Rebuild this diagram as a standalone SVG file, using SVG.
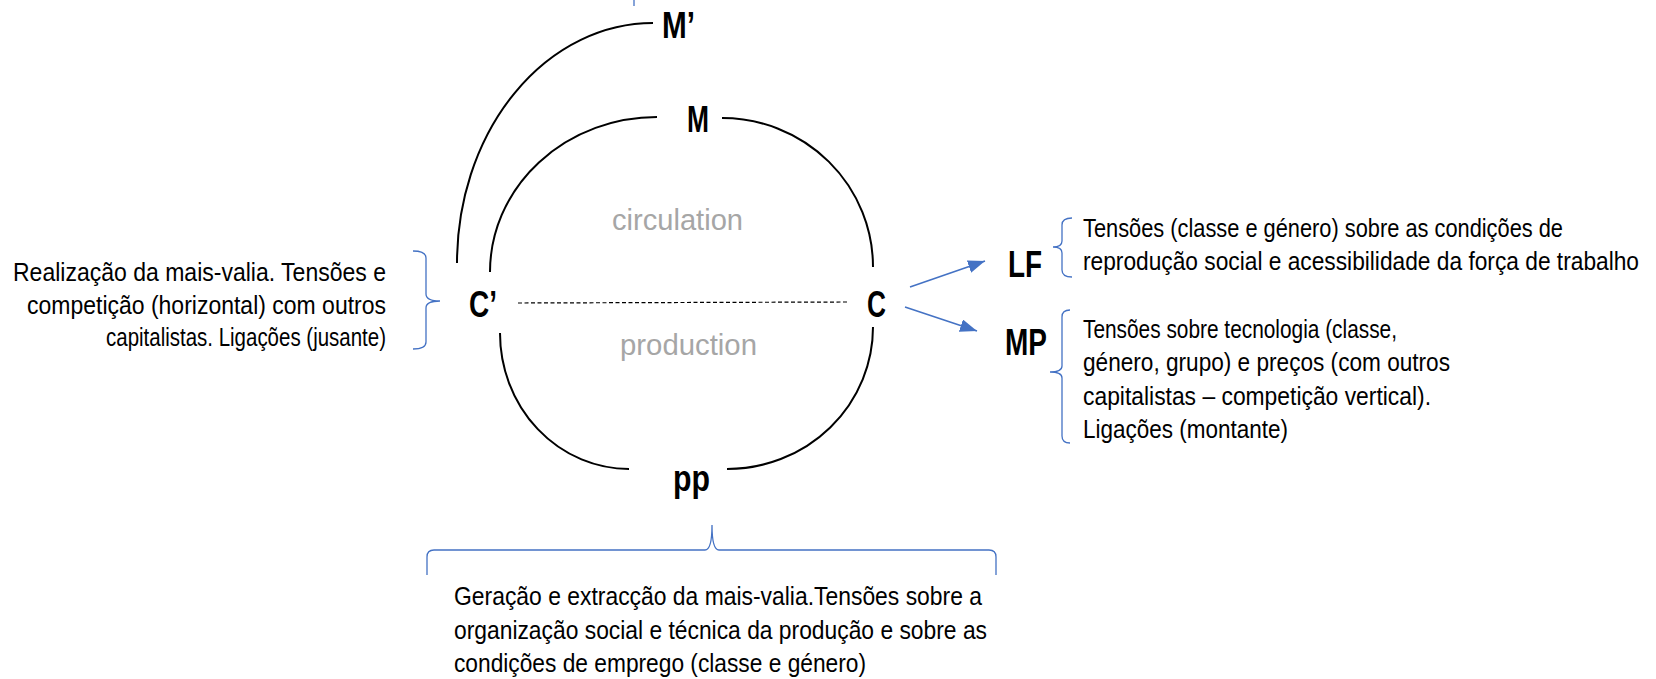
<svg xmlns="http://www.w3.org/2000/svg" width="1656" height="679" viewBox="0 0 1656 679">
<style>
.arc{fill:none;stroke:#000;stroke-width:2}
.dash{fill:none;stroke:#000;stroke-width:1.2;stroke-dasharray:4 2.5}
.blue{fill:none;stroke:#4472C4;stroke-width:1.3}
.arrow{fill:none;stroke:#4472C4;stroke-width:1.6}
.lbl{font-family:"Liberation Sans",Arial,sans-serif;font-weight:bold;font-size:36px;fill:#000}
.body{font-family:"Liberation Sans",Arial,sans-serif;font-size:25.5px;fill:#000}
.gray{font-family:"Liberation Sans",Arial,sans-serif;font-size:30px;fill:#A6A6A6}
</style>
<defs>
<marker id="ah" markerUnits="userSpaceOnUse" markerWidth="17" markerHeight="13" refX="17" refY="6.5" orient="auto">
<path d="M0,0 L17,6.5 L0,13 z" fill="#4472C4"/>
</marker>
</defs>
<rect width="1656" height="679" fill="#fff"/>
<g id="connectors">
<path class="arc" d="M653,23 A196,240 0 0 0 457,263"/>
<path class="arc" d="M657,117 A167,155 0 0 0 490,272"/>
<path class="arc" d="M722,118 A151,149 0 0 1 873,267"/>
<path class="arc" d="M500,333 A129,136 0 0 0 629,469"/>
<path class="arc" d="M873,327 A146,142 0 0 1 727,469"/>
<line class="dash" x1="518" y1="303" x2="847" y2="302"/>
<line class="arrow" x1="910" y1="287" x2="985" y2="261" marker-end="url(#ah)"/>
<line class="arrow" x1="905" y1="307" x2="977" y2="331" marker-end="url(#ah)"/>
<line class="blue" x1="634" y1="-2" x2="634" y2="6"/>
<path class="blue" d="M413,251 Q426,251 426,258 L426,294 Q426,301 440,301 Q426,301 426,308 L426,342 Q426,349 413,349"/>
<path class="blue" d="M1072,218 Q1062,218 1062,225 L1062,241 Q1062,247 1053,247 Q1062,247 1062,253 L1062,270 Q1062,277 1072,277"/>
<path class="blue" d="M1070,310 Q1062,310 1062,317 L1062,366 Q1062,372 1050,372 Q1062,372 1062,378 L1062,436 Q1062,443 1070,443"/>
<path class="blue" d="M427,575 L427,557 Q427,550 434,550 L705,550 Q712,550 712,525 Q712,550 719,550 L989,550 Q996,550 996,557 L996,575"/>
</g>
<g id="node-Mprime"><text class="lbl" x="662" y="38" textLength="33" lengthAdjust="spacingAndGlyphs">M’</text></g>
<g id="node-M"><text class="lbl" x="687" y="132" textLength="22" lengthAdjust="spacingAndGlyphs">M</text></g>
<g id="node-Cprime"><text class="lbl" x="469" y="317" textLength="28" lengthAdjust="spacingAndGlyphs">C’</text></g>
<g id="node-C"><text class="lbl" x="867" y="317" textLength="19" lengthAdjust="spacingAndGlyphs">C</text></g>
<g id="node-LF"><text class="lbl" x="1008" y="277" textLength="34" lengthAdjust="spacingAndGlyphs">LF</text></g>
<g id="node-MP"><text class="lbl" x="1005" y="355" textLength="42" lengthAdjust="spacingAndGlyphs">MP</text></g>
<g id="node-pp"><text class="lbl" x="673" y="491" textLength="37" lengthAdjust="spacingAndGlyphs">pp</text></g>
<g id="label-circulation"><text class="gray" x="612" y="230" textLength="131" lengthAdjust="spacingAndGlyphs">circulation</text></g>
<g id="label-production"><text class="gray" x="620" y="355" textLength="137" lengthAdjust="spacingAndGlyphs">production</text></g>
<g id="note-left">
<text class="body" x="386" y="281" text-anchor="end" textLength="373" lengthAdjust="spacingAndGlyphs">Realização da mais-valia. Tensões e</text>
<text class="body" x="386" y="314" text-anchor="end" textLength="359" lengthAdjust="spacingAndGlyphs">competição (horizontal) com outros</text>
<text class="body" x="386" y="346" text-anchor="end" textLength="280" lengthAdjust="spacingAndGlyphs">capitalistas. Ligações (jusante)</text>
</g>
<g id="note-LF">
<text class="body" x="1083" y="237" textLength="480" lengthAdjust="spacingAndGlyphs">Tensões (classe e género) sobre as condições de</text>
<text class="body" x="1083" y="270" textLength="556" lengthAdjust="spacingAndGlyphs">reprodução social e acessibilidade da força de trabalho</text>
</g>
<g id="note-MP">
<text class="body" x="1083" y="338" textLength="314" lengthAdjust="spacingAndGlyphs">Tensões sobre tecnologia (classe,</text>
<text class="body" x="1083" y="371" textLength="367" lengthAdjust="spacingAndGlyphs">género, grupo) e preços (com outros</text>
<text class="body" x="1083" y="405" textLength="348" lengthAdjust="spacingAndGlyphs">capitalistas – competição vertical).</text>
<text class="body" x="1083" y="438" textLength="205" lengthAdjust="spacingAndGlyphs">Ligações (montante)</text>
</g>
<g id="note-pp">
<text class="body" x="454" y="605" textLength="528" lengthAdjust="spacingAndGlyphs">Geração e extracção da mais-valia.Tensões sobre a</text>
<text class="body" x="454" y="639" textLength="533" lengthAdjust="spacingAndGlyphs">organização social e técnica da produção e sobre as</text>
<text class="body" x="454" y="672" textLength="412" lengthAdjust="spacingAndGlyphs">condições de emprego (classe e género)</text>
</g>
</svg>
